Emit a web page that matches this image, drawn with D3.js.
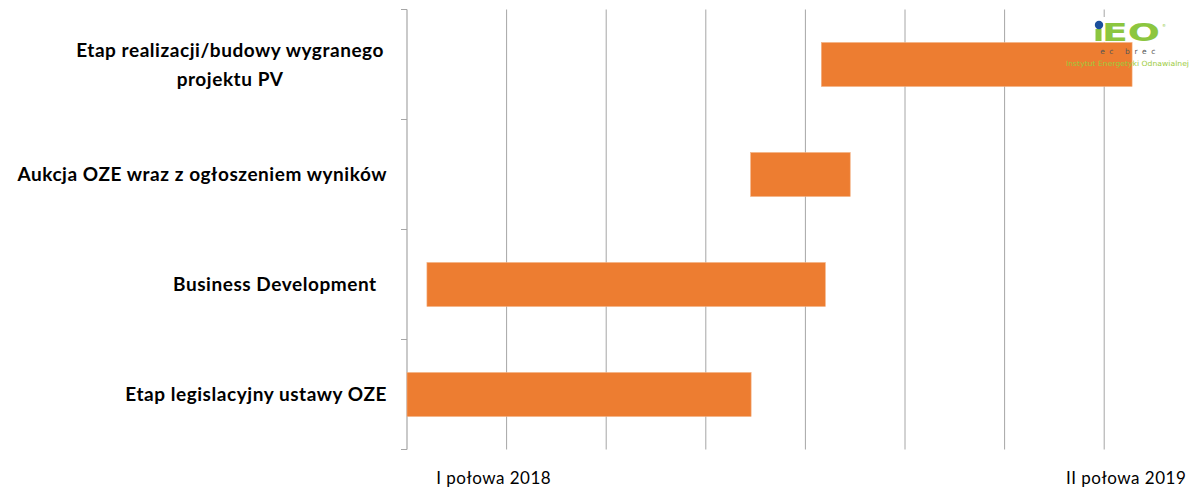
<!DOCTYPE html>
<html><head><meta charset="utf-8">
<script src="https://cdn.jsdelivr.net/npm/d3@7"></script>
<style>
html,body{margin:0;padding:0;background:#fff;}
svg{display:block;}
</style></head>
<body>
<svg id="chart" width="1190" height="489"></svg>
<script>
// ---- data ----
const categories = [
  ["Etap realizacji/budowy wygranego", "projektu PV"],
  ["Aukcja OZE wraz z ogłoszeniem wyników"],
  ["Business Development\u00a0\u00a0"],
  ["Etap legislacyjny ustawy OZE"]
];
const starts = [4.16, 3.45, 0.2, 0.0];
const ends   = [7.28, 4.45, 4.2, 3.455];
const gridValues = [0, 1, 2, 3, 4, 5, 6, 7];
const tickLabels = ["I połowa 2018", "II połowa 2019"];
const tickValues = [0.87, 7.22];

const svg = d3.select("#chart");
const x = d3.scaleLinear().domain([0, 7]).range([407, 1104.2]);
const keys = categories.map((c, i) => i);
const y = d3.scaleBand().domain(keys).range([9.5, 449.5]).paddingInner(0.6).paddingOuter(0.3);

// gridlines
svg.append("g").selectAll("line").data(gridValues.slice(1)).join("line")
  .attr("x1", d => x(d)).attr("x2", d => x(d))
  .attr("y1", 9.5).attr("y2", 449.5)
  .attr("stroke", "#a6a6a6").attr("stroke-width", 1);

// y axis
const yAxis = d3.axisLeft(y.copy().paddingInner(0).paddingOuter(0)).tickSize(0).tickFormat("");
const ag = svg.append("g").attr("transform", `translate(${x(0)},0)`).call(yAxis);
ag.select(".domain").remove();
ag.append("line").attr("x1", 0).attr("x2", 0).attr("y1", 9.5).attr("y2", 449.5)
  .attr("stroke", "#a6a6a6").attr("stroke-width", 1.2);
const step = y.step();
const bounds = d3.range(categories.length + 1).map(i => 9.5 + i * step);
ag.selectAll(".bt").data(bounds).join("line").attr("class", "bt")
  .attr("x1", -6).attr("x2", 0).attr("y1", d => d).attr("y2", d => d)
  .attr("stroke", "#a6a6a6").attr("stroke-width", 1);

// bars
svg.append("g").selectAll("rect").data(keys).join("rect")
  .attr("x", i => x(starts[i]))
  .attr("width", i => x(ends[i]) - x(starts[i]))
  .attr("y", i => y(i))
  .attr("height", y.bandwidth())
  .attr("fill", "#ED7D31")
  .attr("stroke", "#F4B183").attr("stroke-width", 0.6);

// category labels
const font = "Lato, 'Open Sans', sans-serif";
const lg = svg.append("g").attr("font-family", font).attr("font-weight", "bold")
  .attr("font-size", 19).attr("letter-spacing", 0.55).attr("fill", "#000");
const labelRight = 387;
keys.forEach(i => {
  const lines = categories[i];
  const cy = y(i) + y.bandwidth() / 2;
  if (lines.length === 1) {
    lg.append("text").attr("x", labelRight).attr("y", cy + 6.5)
      .attr("text-anchor", "end").style("white-space", "pre").text(lines[0]);
  } else {
    const t1 = lg.append("text").attr("y", cy - 7.5).attr("text-anchor", "middle").text(lines[0]);
    const w1 = t1.node().getComputedTextLength();
    const cx = labelRight - 3 - w1 / 2;
    t1.attr("x", cx);
    lg.append("text").attr("x", cx).attr("y", cy + 21).attr("text-anchor", "middle").text(lines[1]);
  }
});

// x tick labels
svg.append("g").attr("font-family", font).attr("font-size", 17).attr("letter-spacing", 0.5).attr("fill", "#000")
  .selectAll("text").data(tickLabels).join("text")
  .attr("x", (d, i) => x(tickValues[i])).attr("y", 484)
  .attr("text-anchor", "middle").text(d => d);

// logo
const logo = svg.append("g");
logo.append("rect").attr("x", 1092).attr("y", 17).attr("width", 72).attr("height", 25).attr("fill", "#fff");
logo.append("rect").attr("x", 1095.5).attr("y", 29).attr("width", 6).attr("height", 12).attr("fill", "#8CC63F");
logo.append("circle").attr("cx", 1099).attr("cy", 25).attr("r", 4.2).attr("fill", "#1B4F9C");
logo.append("text").attr("x", 1102).attr("y", 41).attr("font-family", "'DejaVu Sans', sans-serif")
  .attr("font-weight", "bold").attr("font-size", 24).attr("fill", "#8CC63F").attr("textLength", 58)
  .attr("lengthAdjust", "spacingAndGlyphs").text("EO");
logo.append("text").attr("x", 1162).attr("y", 27).attr("font-family", "'DejaVu Sans', sans-serif")
  .attr("font-size", 4).attr("fill", "#8CC63F").text("®");
logo.append("text").attr("x", 1130).attr("y", 54).attr("text-anchor", "middle")
  .attr("font-family", "'DejaVu Sans', sans-serif").attr("font-size", 7.5).attr("fill", "#555")
  .attr("letter-spacing", 4.6).text("ec brec");
logo.append("text").attr("x", 1066).attr("y", 65.5)
  .attr("font-family", "'DejaVu Sans', sans-serif").attr("font-size", 7.2).attr("fill", "#9BCB3C")
  .attr("textLength", 123).attr("lengthAdjust", "spacingAndGlyphs").text("Instytut Energetyki Odnawialnej");
</script>
</body></html>
